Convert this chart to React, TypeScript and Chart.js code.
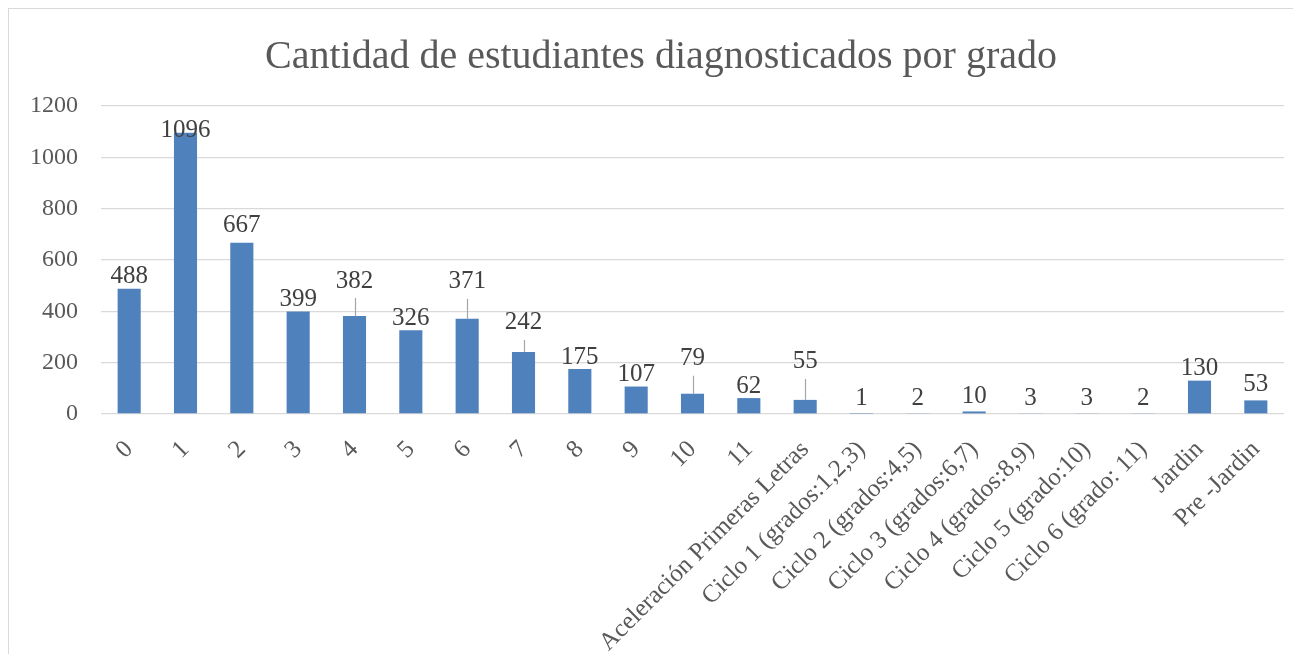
import React, { useEffect, useRef } from "react";
import { Chart, registerables } from "chart.js";

Chart.register(...registerables);

const TITLE = "Cantidad de estudiantes diagnosticados por grado";

const categories = [
  "0", "1", "2", "3", "4", "5", "6", "7", "8", "9", "10", "11",
  "Aceleración Primeras Letras",
  "Ciclo 1 (grados:1,2,3)",
  "Ciclo 2 (grados:4,5)",
  "Ciclo 3 (grados:6,7)",
  "Ciclo 4 (grados:8,9)",
  "Ciclo 5 (grado:10)",
  "Ciclo 6 (grado: 11)",
  "Jardin",
  "Pre -Jardin",
];

const students = [488, 1096, 667, 399, 382, 326, 371, 242, 175, 107, 79, 62, 55, 1, 2, 10, 3, 3, 2, 130, 53];

const yTicks = [0, 200, 400, 600, 800, 1000, 1200];

// label styling (distance of label centre above bar top, in px)
const DEFAULT_LIFT = 12;
const labelLift: Record<number, number> = { 1: 2, 2: 17, 4: 35, 6: 37, 7: 29, 10: 35, 12: 38, 13: 15, 14: 15, 15: 15, 16: 15, 17: 15, 18: 15, 20: 16 };
const leaderLines = [4, 6, 7, 10, 12];

const FONT = '"Liberation Serif", "Times New Roman", serif';

const labelPlugin = {
  id: "barValueLabels",
  afterDatasetsDraw(chart: any) {
    const ctx = chart.ctx;
    const meta = chart.getDatasetMeta(0);
    ctx.save();
    ctx.font = `25px ${FONT}`;
    ctx.fillStyle = "#404040";
    ctx.textAlign = "center";
    ctx.textBaseline = "middle";
    meta.data.forEach((bar: any, i: number) => {
      const lift = labelLift[i] ?? DEFAULT_LIFT;
      const cy = bar.y - lift;
      ctx.fillText(String(students[i]), bar.x, cy);
      if (leaderLines.includes(i)) {
        ctx.strokeStyle = "#a6a6a6";
        ctx.lineWidth = 1.2;
        ctx.beginPath();
        ctx.moveTo(Math.round(bar.x) + 0.5, cy + 17);
        ctx.lineTo(Math.round(bar.x) + 0.5, bar.y);
        ctx.stroke();
      }
    });
    ctx.restore();
  },
};

export default function App() {
  const canvasRef = useRef<HTMLCanvasElement | null>(null);

  useEffect(() => {
    const canvas = canvasRef.current;
    if (!canvas) return;
    const chart = new Chart(canvas, {
      type: "bar",
      data: {
        labels: categories,
        datasets: [
          {
            label: "Estudiantes",
            data: students,
            backgroundColor: "#4f81bd",
            borderWidth: 0,
            categoryPercentage: 1,
            barPercentage: 0.41,
            yAxisID: "y",
          },
        ],
      },
      options: {
        responsive: false,
        animation: false,
        devicePixelRatio: 1,
        layout: { padding: 0 },
        plugins: {
          legend: { display: false },
          tooltip: { enabled: false },
          title: {
            display: true,
            text: TITLE,
            color: "#595959",
            font: { family: FONT, size: 40, weight: "normal" },
            padding: { top: 24, bottom: 25 },
          },
        },
        scales: {
          x: {
            grid: { display: false },
            border: { display: false },
            ticks: {
              autoSkip: false,
              maxRotation: 45,
              minRotation: 45,
              color: "#595959",
              font: { family: FONT, size: 25 },
              padding: 13,
            },
            afterFit: (scale: any) => {
              scale.height = 240;
            },
          },
          y: {
            min: 0,
            max: 1200,
            afterBuildTicks: (scale: any) => {
              scale.ticks = yTicks.map((v) => ({ value: v }));
            },
            grid: { color: "#d9d9d9", lineWidth: 1.3, drawTicks: false },
            border: { display: false },
            ticks: {
              color: "#595959",
              font: { family: FONT, size: 24 },
              padding: 23,
              callback: (v: any) => String(v),
            },
            afterFit: (scale: any) => {
              scale.width = 92;
            },
          },
          yRight: {
            position: "right",
            display: true,
            grid: { display: false, drawTicks: false },
            border: { display: false },
            ticks: { display: false },
            afterFit: (scale: any) => {
              scale.width = 29;
            },
          },
        },
      },
      plugins: [labelPlugin],
    });
    return () => chart.destroy();
  }, []);

  return (
    <div
      style={{
        width: 1284,
        height: 645,
        overflow: "hidden",
        borderLeft: "1px solid #d9d9d9",
        borderTop: "1px solid #d9d9d9",
        background: "#ffffff",
      }}
    >
      <canvas ref={canvasRef} width={1304} height={645} style={{ display: "block", width: 1304, height: 645 }} />
    </div>
  );
}
